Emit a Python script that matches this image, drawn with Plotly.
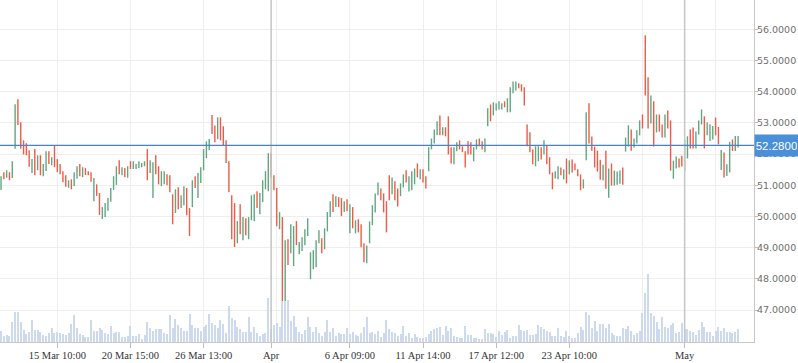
import plotly.graph_objects as go

# ---------------- data ----------------
highs = [
    51.29, 51.42, 51.48, 51.42, 51.77, 53.60, 53.76, 53.02, 52.44, 52.35, 52.12, 51.84, 52.16, 51.96, 51.96, 51.68, 52.09, 52.09, 51.90, 52.28, 51.84,
    51.68, 51.45, 51.32, 51.16, 51.19, 51.42, 51.61, 51.68, 51.58, 51.55, 51.45, 51.42, 51.23, 51.03, 50.75, 50.30, 50.43, 50.59, 50.91, 51.29, 51.61,
    51.80, 51.58, 51.55, 51.61, 51.77, 51.77, 51.68, 51.77, 51.71, 51.77, 52.16, 51.80, 51.74, 51.96, 51.61, 51.45, 51.45, 51.35, 51.32, 50.71, 50.87,
    50.94, 50.68, 50.97, 50.91, 50.27, 51.16, 51.29, 51.39, 51.58, 52.16, 52.41, 52.48, 53.25, 52.92, 53.18, 53.18, 52.89, 52.44, 51.77, 50.68, 50.43,
    49.85, 50.39, 49.98, 49.94, 49.98, 50.68, 50.71, 50.81, 50.75, 51.16, 51.45, 52.03, 52.03, 51.32, 50.91, 50.14, 49.98, 49.24, 49.27, 49.75, 49.69,
    49.85, 49.18, 49.33, 49.59, 49.94, 48.85, 48.92, 49.24, 49.56, 49.30, 49.62, 50.14, 50.49, 50.71, 50.65, 50.62, 50.59, 50.49, 50.55, 50.39, 50.30,
    49.88, 49.91, 49.75, 49.14, 49.07, 49.84, 50.36, 50.74, 51.09, 50.90, 50.74, 50.49, 51.32, 51.25, 51.13, 50.90, 51.06, 51.35, 51.48, 51.29, 51.45,
    51.54, 51.70, 51.51, 51.51, 51.29, 52.22, 52.50, 52.79, 53.05, 53.24, 52.86, 52.86, 53.21, 52.22, 52.22, 52.38, 52.44, 52.25, 52.09, 52.41, 52.38,
    52.22, 52.47, 52.50, 52.41, 52.50, 53.47, 53.59, 53.66, 53.63, 53.69, 53.63, 53.69, 53.79, 54.14, 54.33, 54.33, 54.27, 54.24, 54.14, 52.95, 52.70,
    52.15, 52.25, 52.25, 52.22, 52.44, 52.28, 51.90, 51.41, 51.45, 51.61, 51.57, 51.51, 51.86, 51.80, 51.83, 51.70, 51.51, 51.35, 51.19, 53.34, 53.63,
    52.56, 52.24, 52.11, 51.82, 51.66, 52.11, 51.54, 51.70, 51.47, 51.44, 51.47, 51.57, 52.53, 52.92, 52.79, 52.50, 52.76, 53.08, 53.27, 55.81, 54.46,
    53.88, 53.69, 53.27, 53.27, 52.95, 53.27, 53.40, 53.08, 51.79, 51.92, 51.86, 51.95,
    52.47, 52.57, 52.79, 52.85, 52.72, 53.08, 53.43, 53.21, 53.01, 52.96, 52.90, 53.17, 52.87, 52.13, 52.05, 51.67, 52.39, 52.47, 52.58, 52.58,
]
lows = [
    50.85, 51.19, 51.24, 51.16, 51.23, 52.17, 52.93, 52.17, 51.99, 51.96, 51.59, 51.39, 51.32, 51.48, 51.32, 51.29, 51.46, 51.68, 51.64, 51.58, 51.42,
    51.35, 51.10, 50.95, 50.92, 50.87, 50.98, 51.21, 51.29, 51.26, 51.33, 51.32, 51.11, 50.49, 50.66, 50.05, 49.92, 49.98, 50.18, 50.47, 50.85, 51.01,
    51.35, 51.32, 51.26, 51.24, 51.52, 51.52, 51.52, 51.55, 51.58, 51.61, 51.16, 51.39, 50.59, 51.35, 51.03, 50.97, 51.03, 51.00, 50.78, 49.75, 50.11,
    50.23, 50.27, 50.36, 50.04, 49.37, 50.30, 50.91, 50.59, 51.07, 51.48, 51.87, 52.12, 52.64, 52.38, 52.48, 52.44, 52.28, 51.71, 50.78, 49.27, 49.02,
    49.14, 49.43, 49.24, 49.40, 49.27, 49.88, 49.85, 50.27, 50.07, 50.46, 50.87, 50.81, 51.23, 50.84, 49.69, 49.59, 47.28, 47.28, 48.44, 48.82, 48.41,
    49.08, 48.79, 48.89, 49.08, 49.37, 47.99, 48.31, 48.37, 49.14, 48.82, 48.95, 49.52, 49.98, 50.14, 50.30, 50.30, 50.01, 50.14, 50.17, 49.46, 49.62,
    49.46, 49.49, 49.01, 48.53, 48.50, 49.14, 49.72, 50.13, 50.68, 50.52, 50.13, 49.49, 50.52, 50.71, 50.52, 50.32, 50.65, 50.93, 51.09, 50.80, 50.84,
    51.03, 51.25, 51.19, 51.09, 50.90, 51.45, 52.15, 52.34, 52.60, 52.60, 52.60, 52.57, 51.99, 51.70, 51.67, 52.09, 52.15, 52.06, 51.57, 51.99, 51.99,
    51.77, 52.15, 52.25, 52.15, 52.06, 52.89, 53.05, 53.24, 53.40, 53.43, 53.43, 53.50, 53.34, 53.34, 53.95, 54.04, 54.11, 54.01, 53.56, 52.25, 52.06,
    51.67, 51.61, 51.77, 51.83, 51.99, 51.67, 51.35, 50.87, 51.22, 51.19, 51.32, 51.19, 51.06, 51.35, 51.41, 51.48, 51.29, 50.84, 50.90, 51.80, 52.34,
    52.11, 51.57, 51.44, 51.18, 51.15, 50.89, 50.60, 50.99, 50.99, 51.02, 51.05, 51.02, 52.08, 52.24, 52.11, 52.21, 52.34, 52.60, 52.82, 53.88, 52.82,
    52.98, 52.24, 52.69, 52.72, 52.53, 52.53, 52.82, 51.47, 51.21, 51.54, 51.57, 51.60,
    51.45, 51.86, 52.18, 52.18, 52.18, 52.63, 52.95, 52.18, 52.60, 52.42, 52.47, 52.60, 52.31, 51.49, 51.25, 51.30, 51.41, 52.10, 52.10, 52.21,
]
# bar direction: G = rising (close above open), R = falling
direction = (
    "GRGRGGRRRRRGRGRGGRGRRRRRGRGGRGRRRGRRGGGGGG"
    "RGRGRGGGGGRGGRRGGRRRGRGGRRGRGGGGGRRGRRRRRR"
    "GRGRGGGRGGGGRRRGRGRGGRGGGGGGGGRGGGRGRRGRGR"
    "GRRRGGGGGRRRRGRRGGRGGGRGRRGGGGRGRRRGGRRRRR"
    "GGRRGGRGGGGRGGGGRRRRRRGGRGRRRGGRGRGRRRRGGR"
    "RRRRGRGRGGGRGGRGGGRRRGRGRRGRRGGRR"
    "GGRRGGGRGGGRRGRGGRGG"
)
volume = [
    11, 6, 7, 6, 20, 30, 30, 20, 12, 8, 10, 22, 12, 12, 10, 7, 6, 9, 14, 9, 10,
    9, 8, 7, 9, 18, 27, 14, 8, 7, 5, 5, 22, 11, 11, 14, 12, 9, 8, 16, 9, 10,
    10, 5, 5, 6, 16, 6, 6, 8, 3, 7, 20, 14, 11, 13, 13, 13, 9, 8, 27, 14, 23,
    17, 14, 11, 11, 28, 17, 14, 14, 11, 15, 17, 28, 19, 17, 14, 22, 18, 9, 36, 24, 22,
    15, 13, 10, 10, 25, 10, 15, 9, 6, 8, 9, 44, 13, 17, 19, 15, 41, 41, 42, 21, 26,
    15, 10, 8, 12, 25, 15, 10, 15, 9, 6, 10, 22, 10, 14, 6, 9, 8, 8, 14, 8, 10,
    7, 6, 9, 15, 25, 9, 10, 8, 11, 5, 9, 22, 13, 10, 9, 6, 8, 16, 6, 9, 4,
    8, 5, 4, 4, 5, 8, 11, 13, 14, 15, 7, 16, 11, 14, 6, 5, 4, 4, 16, 7, 7,
    4, 4, 3, 3, 13, 9, 9, 8, 5, 11, 7, 10, 12, 4, 6, 6, 17, 12, 11, 12, 7,
    7, 8, 17, 15, 13, 11, 10, 6, 6, 14, 6, 5, 11, 6, 4, 4, 9, 15, 12, 30, 27,
    14, 21, 11, 18, 18, 14, 18, 9, 7, 6, 6, 14, 13, 16, 11, 7, 9, 11, 29, 49, 68,
    29, 26, 20, 13, 25, 15, 14, 17, 19, 9, 10, 19,
    13, 13, 11, 10, 7, 12, 20, 15, 10, 10, 6, 11, 15, 11, 14, 10, 10, 9, 10, 13,
]
last_price = 52.28

tick_bars = [20, 46, 72, 96, 124, 150, 176, 202, 243]
tick_labels = ["15 Mar 10:00", "20 Mar 15:00", "26 Mar 13:00", "Apr", "6 Apr 09:00",
               "11 Apr 14:00", "17 Apr 12:00", "23 Apr 10:00", "May"]
extra_grid_bars = [98, 228, 254]
month_start_bars = [96, 243]
price_ticks = [47, 48, 49, 50, 51, 52, 53, 54, 55, 56]

# ---------------- build ----------------
n = len(highs)
bars = list(range(n))
opens = [lows[i] if direction[i] == "G" else highs[i] for i in range(n)]
closes = [highs[i] if direction[i] == "G" else lows[i] for i in range(n)]

GREEN = "#62a682"
RED = "#ee5b47"

fig = go.Figure()
fig.add_trace(go.Bar(
    x=bars, y=volume, yaxis="y2", width=0.36,
    marker=dict(color="#cddaee", line=dict(width=0)),
    hoverinfo="skip", showlegend=False,
))
fig.add_trace(go.Ohlc(
    x=bars, open=opens, high=highs, low=lows, close=closes,
    increasing=dict(line=dict(color=GREEN, width=1.4)),
    decreasing=dict(line=dict(color=RED, width=1.4)),
    tickwidth=0, showlegend=False,
))

shapes = []
for b in month_start_bars:
    shapes.append(dict(type="line", xref="x", yref="paper", x0=b, x1=b, y0=0, y1=1,
                       line=dict(color="#c6c6c6", width=1.5), layer="above"))
shapes.append(dict(type="line", xref="paper", yref="y", x0=0, x1=1, y0=last_price, y1=last_price,
                   line=dict(color="#4d80c2", width=1.2), layer="above"))

fig.update_layout(
    width=798, height=363,
    margin=dict(l=0, r=44, t=0, b=21),
    paper_bgcolor="white", plot_bgcolor="white",
    showlegend=False, bargap=0,
    shapes=shapes,
    xaxis=dict(
        range=[-0.37, 267.65], rangeslider=dict(visible=False),
        tickmode="array", tickvals=tick_bars, ticktext=tick_labels,
        ticks="outside", ticklen=5, tickcolor="#bdbdbd",
        showgrid=True, gridcolor="#eeeeee", gridwidth=1,
        minor=dict(tickmode="array", tickvals=extra_grid_bars, showgrid=True,
                   gridcolor="#eeeeee", gridwidth=1, ticks=""),
        showline=True, linecolor="#c8c8c8", linewidth=1,
        tickfont=dict(family="Liberation Serif", size=10.5, color="#333333"),
        ticklabelstandoff=-2,
        zeroline=False, automargin=False,
    ),
    yaxis=dict(
        side="right", range=[45.975, 56.94],
        tickmode="array", tickvals=price_ticks, tickformat=".4f",
        ticks="outside", ticklen=3, tickcolor="#bdbdbd",
        showgrid=True, gridcolor="#eeeeee", gridwidth=1,
        showline=True, linecolor="#c8c8c8", linewidth=1,
        tickfont=dict(family="DejaVu Sans", size=9.5, color="#6e6e6e"),
        ticklabelstandoff=-3,
        zeroline=False, automargin=False,
    ),
    yaxis2=dict(
        overlaying="y", range=[0, 342], visible=False, showgrid=False, zeroline=False,
    ),
    annotations=[dict(
        x=1, xref="paper", y=last_price, yref="y", xanchor="left", yanchor="middle",
        text=f"{last_price:.4f}", showarrow=False,
        font=dict(family="Liberation Sans", size=11.5, color="white"),
        bgcolor="#4a8fd9", borderpad=1, width=41, height=19, xshift=0,
    )],
)

fig.write_html("out.html", config={"displayModeBar": False},
               post_script="document.body.style.margin='0';")
